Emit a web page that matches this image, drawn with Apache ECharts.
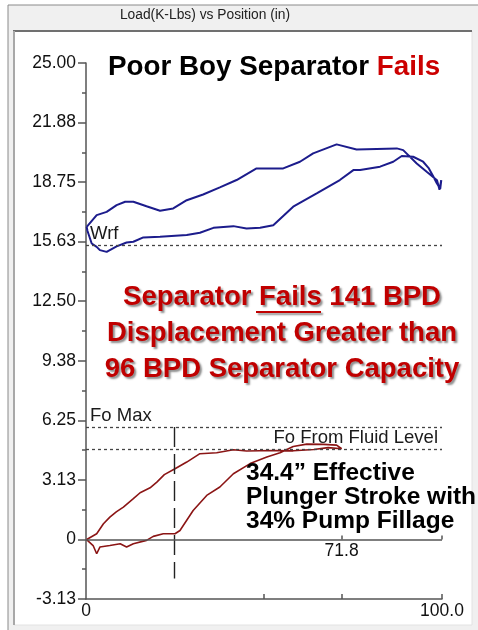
<!DOCTYPE html>
<html><head><meta charset="utf-8">
<script src="https://cdn.jsdelivr.net/npm/echarts@6/dist/echarts.min.js"></script>
<style>html,body{margin:0;padding:0;background:#fff}#c{width:478px;height:630px}</style>
</head><body><div id="c"></div>
<script>
// ---- data ----
const yTickLabels = ["-3.13","0","3.13","6.25","9.38","12.50","15.63","18.75","21.88","25.00"];
const yStep = 3.125;
const xLabelTexts = {"0":"0","100":"100.0"};
const strokeEndX = 71.8;
const strokeEndLabel = "71.8";
const effectiveStrokeX = 24.8;
const refWrf = 15.44, refFoMax = 5.9, refFoFluid = 4.71;
const dashBottom = -2.05;
const zeroTickTop = 0.21;

// surface card (Load K-Lbs vs Position in)
const surfacePos = [0.2,3.0,5.8,8.6,11.0,13.3,17.0,20.8,24.5,28.3,32.9,37.6,42.3,47.9,55.4,60.1,63.8,70.4,76.0,87.3,89.1,92.9,95.7,98.6,99.3,99.8,99.5,
  98.5,97.6,96.2,94.7,91.9,88.7,86.3,82.6,77.0,75.1,71.3,64.8,58.2,52.6,48.9,45.1,41.4,35.8,32.0,28.3,20.8,16.1,13.3,11.4,8.6,5.8,3.9,3.0,1.6,0.4,0.2];
const surfaceLoad = [16.40,17.02,17.19,17.54,17.72,17.72,17.48,17.25,17.37,17.80,18.10,18.47,18.86,19.47,19.47,19.82,20.26,20.73,20.46,20.52,20.43,19.73,19.29,18.85,18.35,18.85,18.40,
  18.70,19.03,19.50,19.82,20.08,20.12,19.82,19.56,19.38,19.38,18.86,18.16,17.46,16.49,16.35,16.32,16.44,16.35,16.09,15.97,15.88,15.85,15.62,15.58,15.38,15.09,15.18,15.35,15.53,16.20,16.40];

// downhole pump card
const pumpPos = [0.2,3.0,4.9,6.7,8.5,10.5,13.3,15.2,18.0,19.9,22.0,25.0,28.3,32.0,36.7,41.4,45.1,52.6,58.2,64.0,68.0,71.8,
  70.4,66.7,62.0,58.2,54.5,50.8,46.1,41.4,37.6,33.9,30.1,26.4,25.0,21.7,18.9,17.0,13.3,11.4,9.6,6.7,3.9,3.0,2.0,0.4,0.2];
const pumpLoad = [0.00,0.30,0.82,1.17,1.45,1.70,2.14,2.45,2.71,3.01,3.40,3.71,4.06,4.50,4.55,4.71,4.64,4.67,4.65,4.72,4.82,4.76,
  4.95,4.99,5.00,4.88,4.55,4.32,3.98,3.45,2.75,2.31,1.52,0.47,0.30,0.30,0.16,-0.05,-0.23,-0.40,-0.23,-0.32,-0.40,-0.75,-0.32,-0.05,0.00];

const zip = (a,b) => a.map((v,i)=>[v,b[i]]);
const FF = '"Liberation Sans", Arial, sans-serif';
const axisGray = '#555';
const axisLine = {color:axisGray,width:1.5,type:'solid'};

const chart = echarts.init(document.getElementById('c'), null, {renderer:'canvas'});
chart.setOption({
  backgroundColor:'#ffffff',
  animation:false,
  grid:{left:86,right:36,top:63,bottom:31,containLabel:false,outerBoundsMode:'none'},
  xAxis:{
    type:'value',min:0,max:100,position:'bottom',
    axisLine:{show:true,onZero:false,lineStyle:axisLine},
    axisTick:{show:true,inside:true,length:5,customValues:[50,strokeEndX,100],lineStyle:axisLine},
    axisLabel:{show:true,customValues:[0,100],formatter:v=>(xLabelTexts[String(v)]||''),margin:3,color:'#111',fontSize:17.5,fontFamily:FF},
    splitLine:{show:false}
  },
  yAxis:{
    type:'value',min:-yStep,max:8*yStep,interval:yStep,
    axisLine:{show:true,onZero:false,lineStyle:axisLine},
    axisTick:{show:true,length:8,lineStyle:axisLine},
    minorTick:{show:true,splitNumber:2,length:4,lineStyle:axisLine},
    axisLabel:{formatter:v=>yTickLabels[Math.round(v/yStep)+1],margin:10,color:'#111',fontSize:17.5,fontFamily:FF},
    splitLine:{show:false}
  },
  series:[{
    type:'line',name:'Surface',data:zip(surfacePos,surfaceLoad),showSymbol:false,symbol:'none',
    lineStyle:{color:'#1c1c8c',width:2},z:3
  },{
    type:'line',name:'Pump',data:zip(pumpPos,pumpLoad),showSymbol:false,symbol:'none',
    lineStyle:{color:'#8b1515',width:1.6},z:3,
    markLine:{
      silent:true,symbol:['none','none'],animation:false,
      lineStyle:{color:'#444',type:[3,3],width:1.3},
      label:{color:'#1a1a1a',fontSize:18.5,fontFamily:FF,distance:[4,2]},
      data:[
        {yAxis:refWrf,label:{formatter:'Wrf',position:'insideStartTop'}},
        {yAxis:refFoMax,label:{formatter:'Fo Max',position:'insideStartTop'}},
        {yAxis:refFoFluid,label:{formatter:'Fo From Fluid Level',position:'insideEndTop'}},
        [{coord:[effectiveStrokeX,refFoMax],lineStyle:{color:'#222',type:[20,7],width:1.4},label:{show:false}},
         {coord:[effectiveStrokeX,dashBottom]}],
        [{coord:[0,0],lineStyle:axisLine,label:{show:false}},{coord:[100,0]}],
        [{coord:[strokeEndX,0],lineStyle:axisLine,label:{show:true,formatter:strokeEndLabel,position:'start',distance:3,color:'#111',fontSize:17.5}},
         {coord:[strokeEndX,zeroTickTop]}],
        [{coord:[100,0],lineStyle:axisLine,label:{show:false}},{coord:[100,zeroTickTop]}]
      ]
    }
  }],
  graphic:[
    {type:'rect',z:-10,shape:{x:8,y:5,width:480,height:640},style:{fill:'#f0f0f0',stroke:'#8a8a8a',lineWidth:1}},
    {type:'text',z:-9,x:205,y:15,style:{text:'Load(K-Lbs) vs Position (in)',fill:'#222',font:'13.8px '+FF,textAlign:'center',textVerticalAlign:'middle'}},
    {type:'rect',z:-9,shape:{x:14,y:31,width:458,height:594},style:{fill:'#ffffff',stroke:'#e2e2e2',lineWidth:1}},
    {type:'line',z:-8,shape:{x1:13,y1:31,x2:472,y2:31},style:{stroke:'#707070',lineWidth:2}},
    {type:'line',z:-8,shape:{x1:14,y1:31,x2:14,y2:625},style:{stroke:'#a8a8a8',lineWidth:2}},
    {type:'text',z:10,x:108,y:67,style:{text:'{k|Poor Boy Separator }{r|Fails}',textVerticalAlign:'middle',
      rich:{k:{fill:'#000',fontSize:27.8,fontWeight:'bold',fontFamily:FF},r:{fill:'#cc0000',fontSize:27.8,fontWeight:'bold',fontFamily:FF}}}},
    {type:'text',z:10,x:282,y:333,style:{text:'Separator Fails 141 BPD\nDisplacement Greater than\n96 BPD Separator Capacity',
      fill:'#c00000',font:'bold 27.5px '+FF,textAlign:'center',textVerticalAlign:'middle',lineHeight:36,
      textShadowColor:'rgba(0,0,0,0.45)',textShadowBlur:2,textShadowOffsetX:2,textShadowOffsetY:2}},
    {type:'line',z:10,shape:{x1:256,y1:312,x2:321,y2:312},style:{stroke:'#c00000',lineWidth:2,shadowColor:'rgba(0,0,0,0.45)',shadowBlur:2,shadowOffsetX:2,shadowOffsetY:2}},
    {type:'text',z:10,x:246,y:497,style:{text:'34.4\u201D Effective\nPlunger Stroke with\n34% Pump Fillage',
      fill:'#000',font:'bold 24.5px '+FF,textAlign:'left',textVerticalAlign:'middle',lineHeight:24}}
  ]
});
</script></body></html>
